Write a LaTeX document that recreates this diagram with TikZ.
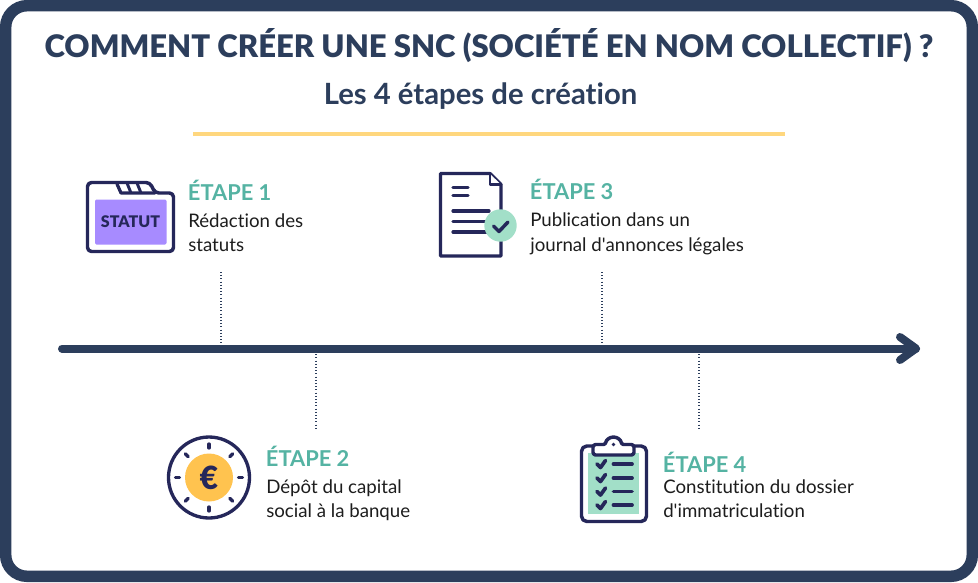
\documentclass[tikz,border=0pt]{standalone}
\usepackage{fontspec}
\setmainfont{Lato}[Ligatures={NoCommon}]
\newfontfamily\blackf{Lato Black}[Ligatures={NoCommon}]
\usetikzlibrary{calc}
\definecolor{navy}{HTML}{2C3E5C}
\definecolor{ink}{HTML}{25275A}
\definecolor{teal}{HTML}{55B3A3}
\definecolor{mint}{HTML}{A2DFC8}
\definecolor{gold}{HTML}{FFC34F}
\definecolor{ruleg}{HTML}{FFD77E}
\definecolor{violet}{HTML}{A78BFF}
\definecolor{bodyt}{HTML}{1D1D1D}
\tikzset{
  steptitle/.style={anchor=base west,inner sep=0pt,font=\fontsize{16.4}{18}\selectfont\bfseries,text=teal},
  stepbody/.style={anchor=base west,inner sep=0pt,font=\fontsize{14}{18}\selectfont,text=bodyt,align=left},
  guide/.style={draw=navy,line width=0.8pt,dash pattern=on 0.8pt off 1.6pt},
  icon/.style={draw=ink,line width=2.6pt,line cap=round,line join=round}
}
\begin{document}
\begin{tikzpicture}[x=0.75pt,y=-0.75pt]
\useasboundingbox (0,0) rectangle (978,582);
\fill[white] (0,0) rectangle (978,582);
% frame
\draw[navy,line width=8.6pt,rounded corners=16pt] (5.7,5.7) rectangle (972.3,576.3);
% headings
\node[anchor=base,inner sep=0pt,font=\fontsize{23.3}{26}\selectfont\blackf,text=navy] (title) at (489,57) {COMMENT CRÉER UNE SNC (SOCIÉTÉ EN NOM COLLECTIF) ?};
\node[anchor=base,inner sep=0pt,font=\fontsize{21.95}{24}\selectfont\bfseries,text=navy] (subtitle) at (480.5,104) {Les 4 étapes de création};
\coordinate (ruleA) at (193,134);
\coordinate (ruleB) at (785,134);
\draw[ruleg,line width=3pt] (ruleA) -- (ruleB);
% timeline
\coordinate (axisA) at (62,348.5);
\coordinate (axisB) at (916,348.5);
\coordinate (tipA) at (900,337);
\coordinate (tipB) at (900,360);
\draw[navy,line width=6pt,line cap=round] (axisA) -- (axisB);
\draw[navy,line width=6pt,line cap=round,line join=round] (tipA) -- (axisB) -- (tipB);
% guides
\coordinate (g1a) at (221,272); \coordinate (g1b) at (221,346);
\coordinate (g2a) at (316,351); \coordinate (g2b) at (316,429);
\coordinate (g3a) at (602,272); \coordinate (g3b) at (602,346);
\coordinate (g4a) at (699,351); \coordinate (g4b) at (699,429);
\draw[guide] (g1a) -- (g1b);
\draw[guide] (g2a) -- (g2b);
\draw[guide] (g3a) -- (g3b);
\draw[guide] (g4a) -- (g4b);
% text
\node[steptitle] (t1) at (187.7,200) {ÉTAPE 1};
\node[stepbody] (b1a) at (188,227) {Rédaction des};
\node[stepbody] (b1b) at (188,251) {statuts};
\node[steptitle] (t2) at (265.7,466.5) {ÉTAPE 2};
\node[stepbody] (b2a) at (266,493) {Dépôt du capital};
\node[stepbody] (b2b) at (266,517) {social à la banque};
\node[steptitle] (t3) at (529.7,199.5) {ÉTAPE 3};
\node[stepbody] (b3a) at (530,226.5) {Publication dans un};
\node[stepbody] (b3b) at (530,251) {journal d\textquotesingle annonces légales};
\node[steptitle] (t4) at (662.7,472.5) {ÉTAPE 4};
\node[stepbody] (b4a) at (663,493) {Constitution du dossier};
\node[stepbody] (b4b) at (663,517) {d\textquotesingle immatriculation};
% icon 1 : folder
\draw[icon,fill=white,rounded corners=3pt] (87.5,182.5) -- (150,182.5) -- (155,193) -- (173.5,193) -- (173.5,251.5) -- (87.5,251.5) -- cycle;
\draw[icon,line width=2.4pt] (117,184) -- (121,193) -- (155,193);
\draw[icon,line width=2.2pt,line cap=butt] (127,183) -- (131,193) (137,183) -- (141,193);
\fill[violet,rounded corners=1pt] (95,199.5) rectangle (166.5,244.5);
\node[inner sep=0pt,font=\fontsize{12}{14}\selectfont\blackf,text=ink] (statut) at (130.5,222) {STATUT};
% icon 3 : document
\draw[icon,fill=white,line width=2.4pt] (440.5,173.5) -- (490,173.5) -- (501,184.5) -- (501,256) -- (440.5,256) -- cycle;
\draw[icon,fill=white,line width=2.2pt] (490,174) -- (490,184.5) -- (501,184.5);
\foreach \ya/\xb in {187.5/468,195.5/468,211/489,221.5/489,232/489}
  \draw[icon,line width=2.4pt] (453,\ya) -- (\xb,\ya);
\fill[mint] (500.5,225.5) circle (16.2);
\draw[icon,line width=2.6pt] (493.5,226) -- (499,231.5) -- (508,222);
% icon 2 : coin
\draw[icon,fill=white,line width=2.5pt] (209,477.5) circle (40.5);
\fill[gold] (209,477.5) circle (24);
\foreach \a in {0,45,...,315}
  \draw[icon,line width=2.5pt] ($(209,477.5)+(\a:29.5)$) -- ($(209,477.5)+(\a:33.5)$);
\node[inner sep=0pt,font=\fontsize{24}{26}\selectfont\blackf,text=ink] (euro) at (209,478) {€};
% icon 4 : clipboard
\fill[white] (581.5,446) rectangle (646.5,521);
\fill[mint] (588,453) rectangle (639,514);
\draw[icon,line width=2.6pt,rounded corners=4pt] (594,446) -- (581.5,446) -- (581.5,521.5) -- (646.5,521.5) -- (646.5,446) -- (634,446);
\draw[icon,fill=white,line width=2.6pt,rounded corners=2pt] (593,455) -- (593,444.5) -- (606,444.5) arc[start angle=180,end angle=360,radius=7.5] -- (634,444.5) -- (634,455) -- cycle;
\fill[ink] (613.5,444.5) circle (1.8);
\foreach \y in {464,478,491.5,505}{
  \draw[icon,line width=2.8pt] (597,\y) -- (600.5,\y+3.5) -- (605.5,\y-3.5);
  \draw[icon,line width=2.8pt] (613.5,\y) -- (632,\y);
}
\end{tikzpicture}
\end{document}
